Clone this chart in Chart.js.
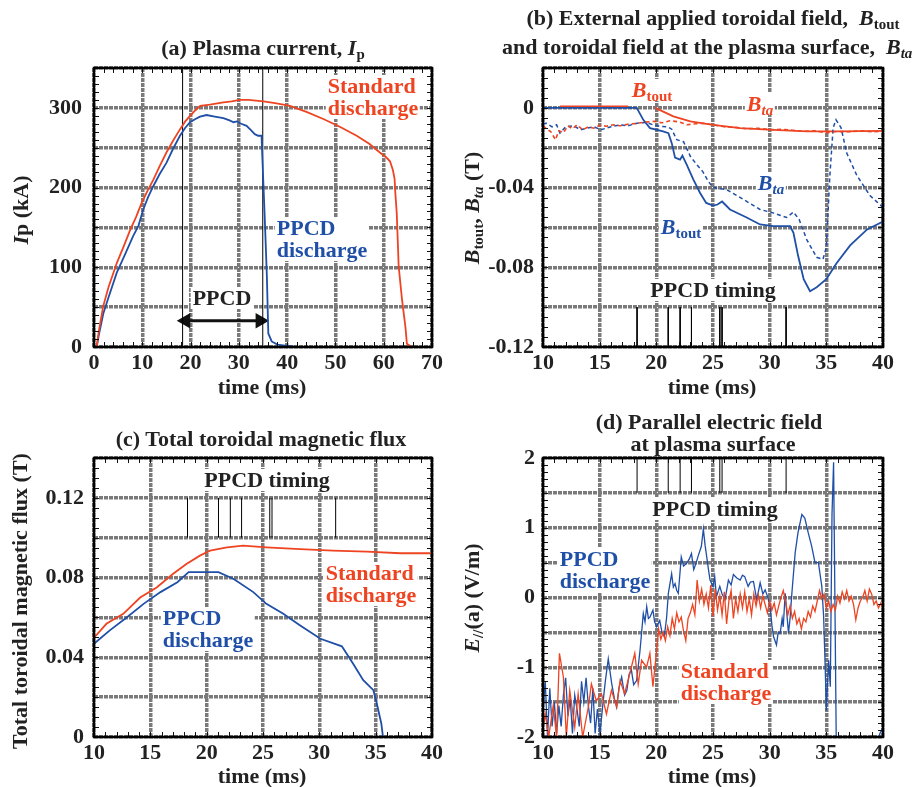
<!DOCTYPE html>
<html>
<head>
<meta charset="utf-8">
<script src="https://cdn.jsdelivr.net/npm/chart.js@4.4.0/dist/chart.umd.min.js"></script>
<style>
  body { margin: 0; width: 917px; height: 787px; position: relative; overflow: hidden; background: #fff;
         font-family: 'Liberation Serif', 'Times New Roman', serif; font-weight: bold; color: #222; }
  canvas { position: absolute; left: 0; top: 0; }
  .lab { position: absolute; white-space: nowrap; transform: translate(-50%, -50%); font-size: 22px; line-height: 22px; }
  .bg { background: #fff; padding: 0 2px; }
  .rot { transform: translate(-50%, -50%) rotate(-90deg); }
  .red { color: #ee4422; }
  .blue { color: #1f4fa6; }
  sub { font-size: 0.68em; vertical-align: -0.3em; line-height: 0; }
  i { font-style: italic; }
</style>
</head>
<body>
<canvas id="pa" width="917" height="787"></canvas>
<canvas id="pb" width="917" height="787"></canvas>
<canvas id="pc" width="917" height="787"></canvas>
<canvas id="pd" width="917" height="787"></canvas>

<!-- (a) -->
<div class="lab" style="left:263px;top:48px">(a) Plasma current, <i>I</i><sub>p</sub></div>
<div class="lab rot" style="left:21px;top:210px"><i>I</i>p (kA)</div>
<div class="lab" style="left:262px;top:387px">time (ms)</div>
<div class="lab bg red" style="left:373px;top:97px;text-align:left">Standard<br>discharge</div>
<div class="lab bg blue" style="left:322px;top:239px;text-align:left">PPCD<br>discharge</div>
<div class="lab bg" style="left:222px;top:298px">PPCD</div>

<!-- (b) -->
<div class="lab" style="left:713px;top:18px">(b) External applied toroidal field,&nbsp; <i>B</i><sub>tout</sub></div>
<div class="lab" style="left:502px;top:47px;transform:translate(0,-50%)">and toroidal field at the plasma surface,&nbsp; <i>B</i><sub><i>ta</i></sub></div>
<div class="lab rot" style="left:472px;top:208px"><i>B</i><sub>tout</sub>, <i>B</i><sub><i>ta</i></sub> (T)</div>
<div class="lab" style="left:712px;top:387px">time (ms)</div>
<div class="lab bg red" style="left:652px;top:90px"><i>B</i><sub>tout</sub></div>
<div class="lab bg red" style="left:760px;top:104px"><i>B</i><sub><i>ta</i></sub></div>
<div class="lab bg blue" style="left:771px;top:183px"><i>B</i><sub><i>ta</i></sub></div>
<div class="lab bg blue" style="left:681px;top:227px"><i>B</i><sub>tout</sub></div>
<div class="lab bg" style="left:713px;top:290px">PPCD timing</div>

<!-- (c) -->
<div class="lab" style="left:261px;top:439px">(c) Total toroidal magnetic flux</div>
<div class="lab rot" style="left:20px;top:601px">Total toroidal magnetic flux (T)</div>
<div class="lab" style="left:262px;top:776px">time (ms)</div>
<div class="lab bg" style="left:267px;top:480px">PPCD timing</div>
<div class="lab bg red" style="left:371px;top:584px;text-align:left">Standard<br>discharge</div>
<div class="lab bg blue" style="left:208px;top:629px;text-align:left">PPCD<br>discharge</div>

<!-- (d) -->
<div class="lab" style="left:709px;top:422px">(d) Parallel electric field</div>
<div class="lab" style="left:713px;top:444px">at plasma surface</div>
<div class="lab rot" style="left:472px;top:598px"><i>E</i><sub>//</sub>(a) (V/m)</div>
<div class="lab" style="left:712px;top:776px">time (ms)</div>
<div class="lab bg" style="left:715px;top:509px">PPCD timing</div>
<div class="lab bg blue" style="left:605px;top:570px;text-align:left">PPCD<br>discharge</div>
<div class="lab bg red" style="left:726px;top:682px;text-align:left">Standard<br>discharge</div>

<script>
// ---- (a) plasma current ----
const ipStdTime = [0, 0.55, 1.0, 1.9, 3.0, 4.7, 6.0, 7.5, 8.7, 9.9, 11.0, 12.3, 13.6, 15.0, 16.4, 17.8, 18.9, 19.9, 21.0, 22.0, 24.0, 26.8, 28.5, 30.2, 32.0, 35.1, 37.5, 40.6, 44.0, 47.5, 51.0, 54.4, 57.0, 59.2, 60.5, 61.3, 61.9, 62.25, 62.4, 62.7, 63.1, 63.8, 64.5, 64.8, 65.8];
const ipStdKA   = [0, 0, 20, 51, 75, 105, 124, 147, 163, 181, 195, 210, 227, 244, 259, 273, 283, 290, 297, 302.6, 304, 307, 308, 310, 310, 308, 306, 302.6, 295, 286, 276, 265, 255, 244, 238, 233, 222, 211, 194, 168, 101, 59, 25, 4, 0];
const ipPpcdTime = [0, 0.55, 1.0, 1.93, 3.0, 4.7, 6.5, 8.1, 9.2, 10.2, 11.2, 12.3, 13.6, 15.0, 16.4, 17.8, 18.9, 19.9, 21.0, 21.95, 23.3, 25.0, 26.8, 28.2, 28.9, 29.6, 30.5, 31.6, 32.5, 33.3, 34.0, 34.7, 34.8, 35.1, 35.4, 35.8, 36.1, 36.8, 38.0, 39.2, 41.9, 42.5];
const ipPpcdKA   = [0, 0, 15, 42, 62, 93, 117, 139, 152, 172.5, 188, 202, 217, 231, 249, 265, 275, 282, 286, 289, 291, 289, 287, 284, 282, 283, 280, 277.5, 272, 267, 265, 265, 248, 202, 156, 89, 17, 7, 3, 2, 0, 0];
const ppcdWindow = [18.35, 34.95];
const ppcdArrow = [19.0, 34.4];
const ppcdArrowLevel = 33;

// ---- (b) toroidal field ----
const btoutPpcdTime = [10, 18.27, 18.85, 19.44, 20.6, 21.07, 21.36, 21.65, 22.09, 22.3, 22.68, 23.27, 23.86, 24.4, 25.0, 25.4, 25.8, 26.5, 27.97, 29.15, 30.3, 31.8, 32.1, 32.5, 33.0, 33.56, 34.15, 35.0, 35.9, 37.1, 38.6, 40.0];
const btoutPpcd     = [0, 0, -0.006, -0.0102, -0.0118, -0.0127, -0.0177, -0.025, -0.026, -0.024, -0.0285, -0.036, -0.0427, -0.0477, -0.049, -0.0485, -0.047, -0.051, -0.055, -0.0585, -0.0593, -0.0593, -0.0627, -0.074, -0.086, -0.092, -0.090, -0.086, -0.078, -0.069, -0.061, -0.057];
const btaPpcdTime = [10, 10.3, 10.8, 11.2, 11.5, 12.0, 12.7, 13.3, 13.9, 14.5, 15.1, 16.0, 16.8, 17.5, 18.3, 19.1, 19.7, 20.3, 21.0, 21.36, 21.8, 22.4, 23.0, 23.5, 24.1, 24.6, 25.0, 26.2, 27.7, 29.15, 30.3, 31.5, 32.1, 32.6, 33.26, 34.15, 34.7, 35.0, 35.3, 35.6, 35.85, 36.3, 36.8, 37.7, 38.85, 40.0];
const btaPpcd     = [-0.008, -0.0077, -0.0095, -0.0085, -0.0127, -0.0095, -0.009, -0.011, -0.0102, -0.0095, -0.011, -0.0095, -0.0085, -0.009, -0.0077, -0.0073, -0.0085, -0.0093, -0.0095, -0.0107, -0.016, -0.017, -0.0243, -0.028, -0.032, -0.037, -0.040, -0.041, -0.046, -0.051, -0.0527, -0.055, -0.0523, -0.056, -0.066, -0.075, -0.076, -0.07, -0.035, -0.01, -0.006, -0.01, -0.0227, -0.034, -0.044, -0.050];
const btoutStdTime = [11.5, 17.5, null, 19.9, 21.5, 23.0, 25.0, 27.4, 30.3, 33.3, 36.2, 40.0];
const btoutStd     = [0.0007, 0.0007, null, 0, -0.0043, -0.0068, -0.0085, -0.0102, -0.011, -0.0118, -0.0118, -0.0115];
const btaStdTime = [10, 10.3, 10.7, 11.1, 11.4, 11.8, 12.2, 12.6, 13.0, 13.5, 14.0, 14.5, 15.0, 15.6, 16.2, 16.8, 17.5, 18.2, 19.0, 19.8, 20.5, 21.2, 22.0, 22.7, 23.5, 24.2, 25.0, 26.0, 27.0, 28.0, 29.0, 30.0, 31.0, 32.0, 33.0, 34.0, 35.0, 36.0, 37.0, 38.0, 39.0, 40.0];
const btaStd     = [-0.009, -0.0105, -0.012, -0.016, -0.0115, -0.0125, -0.009, -0.0105, -0.0085, -0.011, -0.0095, -0.0102, -0.0088, -0.0092, -0.0085, -0.009, -0.0082, -0.0078, -0.0072, -0.0068, -0.0075, -0.0065, -0.007, -0.0085, -0.008, -0.0078, -0.0085, -0.0095, -0.0098, -0.0105, -0.0102, -0.011, -0.0108, -0.0112, -0.0118, -0.0115, -0.0125, -0.0118, -0.012, -0.0115, -0.012, -0.0118];

// ---- (c) toroidal flux ----
const fluxStdTime = [10, 11.1, 12.6, 14.1, 15.56, 17.0, 18.2, 19.4, 20.3, 21.8, 23.25, 25.3, 28.3, 31.2, 34.2, 37.2, 40];
const fluxStd     = [0.0498, 0.0568, 0.0618, 0.070, 0.075, 0.0818, 0.0868, 0.091, 0.0935, 0.0952, 0.096, 0.0952, 0.0943, 0.0935, 0.093, 0.0922, 0.0922];
const fluxPpcdTime = [10, 11.4, 12.9, 14.4, 15.9, 17.4, 18.4, 21.05, 22.4, 24.14, 25.3, 26.8, 28.3, 30.1, 32.0, 33.0, 33.9, 34.8, 35.1, 35.5, 35.65];
const fluxPpcd     = [0.0468, 0.0535, 0.060, 0.0668, 0.0727, 0.0777, 0.0827, 0.0827, 0.0793, 0.0727, 0.0668, 0.0618, 0.056, 0.0493, 0.0455, 0.0368, 0.0285, 0.0235, 0.0168, 0.0068, 0];

// ---- (d) parallel electric field ----
const ePpcdTime = [10.0, 10.2, 10.4, 10.6, 10.8, 11.0, 11.2, 11.4, 11.6, 11.8, 12.0, 12.2, 12.4, 12.6, 12.8, 13.0, 13.2, 13.4, 13.6, 13.8, 14.0, 14.2, 14.4, 14.6, 14.8, 15.03, 15.3, 15.5, 15.76, 16.06, 16.3, 16.5, 16.7, 16.94, 17.2, 17.4, 17.6, 17.8, 18.0, 18.26, 18.56, 18.85, 19.0, 19.15, 19.3, 19.44, 19.7, 19.85, 20.03, 20.3, 20.5, 20.7, 20.9, 21.06, 21.35, 21.5, 21.65, 21.8, 21.94, 22.2, 22.4, 22.67, 22.9, 23.1, 23.3, 23.5, 23.7, 23.97, 24.15, 24.3, 24.44, 24.6, 24.74, 25.0, 25.15, 25.3, 25.6, 25.8, 26.06, 26.36, 26.6, 26.8, 27.1, 27.4, 27.6, 27.8, 28.1, 28.3, 28.57, 28.86, 29.16, 29.4, 29.6, 29.8, 30.04, 30.2, 30.34, 30.6, 30.75, 30.93, 31.1, 31.2, 31.37, 31.5, 31.66, 31.8, 31.96, 32.25, 32.5, 32.84, 33.1, 33.4, 33.7, 34.0, 34.3, 34.6, 34.76, 34.9, 35.0, 35.2, 35.35, 35.5, 35.64, 35.7, 35.9, 39.5, 39.7, 40.0];
const ePpcd     = [-1.6, -1.2, -2.0, -1.3, -1.85, -1.5, -1.95, -1.55, -1.85, -1.4, -1.15, -1.7, -1.45, -1.95, -1.4, -1.6, -1.85, -1.2, -1.5, -1.15, -1.55, -1.8, -1.3, -1.95, -1.6, -1.95, -1.5, -1.2, -0.88, -1.23, -1.45, -1.57, -1.3, -1.14, -1.4, -1.33, -1.1, -1.04, -1.25, -1.19, -0.76, -0.23, -0.35, -0.13, -0.3, -0.28, -0.18, -0.35, -0.42, -0.33, -0.5, -0.56, -0.3, 0.06, 0.34, 0.15, 0.2, 0.1, 0.06, 0.58, 0.45, 0.49, 0.55, 0.63, 0.4, 0.49, 0.6, 0.73, 0.98, 0.75, 0.59, 0.4, 0.25, 0.16, 0.3, 0.01, 0.16, 0.05, -0.03, 0.25, 0.18, 0.33, 0.28, 0.25, 0.32, 0.3, 0.16, 0.22, 0.23, -0.03, 0.21, 0.05, 0.11, 0.02, -0.13, -0.4, -0.56, -0.68, -0.5, -0.51, -0.3, -0.42, 0.06, -0.2, -0.51, -0.3, 0.06, 0.64, 0.93, 1.19, 1.14, 0.93, 0.74, 0.5, 0.5, 0.16, -0.27, -1.0, -1.62, -0.9, -1.28, 1.19, 1.94, 0.93, -2.5, -2.5, -1.96, -1.86];
const eStdTime = [10.0, 10.2, 10.5, 10.9, 11.2, 11.45, 11.8, 12.06, 12.36, 12.8, 13.1, 13.5, 14.0, 14.27, 14.7, 15.16, 15.6, 16.04, 16.5, 16.8, 17.2, 17.66, 18.1, 18.4, 18.7, 19.14, 19.43, 19.7,
  20.0, 20.2, 20.4, 20.6, 20.8, 21.0, 21.2, 21.4, 21.6, 21.8, 22.0, 22.2, 22.4, 22.6, 22.8, 23.0, 23.2, 23.4, 23.6, 23.8, 24.0, 24.2, 24.4, 24.6, 24.8,
  25.0, 25.2, 25.4, 25.6, 25.8, 26.0, 26.2, 26.4, 26.6, 26.8, 27.0, 27.2, 27.4, 27.6, 27.8, 28.0, 28.2, 28.4, 28.6, 28.8, 29.0, 29.2, 29.4, 29.6, 29.8,
  30.0, 30.2, 30.4, 30.6, 30.8, 31.0, 31.2, 31.4, 31.6, 31.8, 32.0, 32.2, 32.4, 32.6, 32.8, 33.0, 33.2, 33.4, 33.6, 33.8, 34.0, 34.2, 34.4, 34.6, 34.8,
  35.0, 35.2, 35.4, 35.6, 35.8, 36.0, 36.2, 36.4, 36.6, 36.8, 37.0, 37.2, 37.4, 37.6, 37.8, 38.0, 38.2, 38.4, 38.6, 38.8, 39.0, 39.2, 39.4, 39.6, 39.8, 40.0];
const eStd     = [-1.9, -1.67, -2.0, -1.55, -2.0, -0.8, -1.14, -2.0, -1.33, -1.86, -1.38, -2.0, -1.57, -1.24, -1.48, -1.38, -1.67, -1.33, -1.57, -1.19, -1.38, -1.09, -0.8, -1.24, -0.9, -1.0, -0.8, -1.28,
  -0.8, -0.45, -0.6, -0.5, -0.62, -0.42, -0.55, -0.3, -0.45, -0.22, -0.35, -0.28, -0.48, -0.62, -0.3, -0.22, -0.1, -0.25, 0.25, -0.05, 0.12, -0.1, 0.05, -0.15, 0.18,
  -0.27, 0.12, -0.18, 0.02, -0.25, 0.08, -0.38, -0.05, 0.1, -0.3, -0.02, -0.2, 0.05, -0.15, 0.08, -0.2, -0.02, -0.25, 0.05, -0.12, 0.04, -0.15, 0.02, -0.1, -0.22,
  -0.05, -0.18, -0.08, -0.25, -0.12, 0.0, 0.1, -0.05, -0.25, -0.12, -0.3, -0.2, -0.38, -0.3, -0.45, -0.3, -0.35, -0.2, -0.28, -0.12, -0.2, -0.05, 0.1, -0.02, 0.05,
  -0.15, -0.05, -0.2, -0.1, -0.18, 0.02, -0.08, 0.08, -0.02, 0.1, -0.05, 0.02, -0.1, -0.32, -0.15, -0.05, 0.0, 0.1, -0.05, 0.12, 0.05, -0.1, -0.05, -0.15, -0.08, -0.18];

// PPCD coil firing times (panels b, c, d)
const ppcdTiming = [18.3, 21.05, 22.1, 23.1, 25.6, 25.8, 31.45];

const RED = '#ee4422', BLUE = '#1f4fa6';
const FONT = "'Liberation Serif', 'Times New Roman', serif";

function zip(ts, vs) {
  return ts.map((t, i) => (t === null ? { x: NaN, y: null } : { x: t, y: vs[i] }));
}

function series(ts, vs, color, width, dash) {
  return { data: zip(ts, vs), borderColor: color, borderWidth: width, borderDash: dash || [], pointRadius: 0, spanGaps: false };
}

function vlines(ts, y0, y1) {
  return ts.map(t => ({ data: [{ x: t, y: y0 }, { x: t, y: y1 }], borderColor: '#000', borderWidth: 1, pointRadius: 0 }));
}

// inner frame + small inward minor ticks like the original plots
const framePlugin = {
  id: 'frame',
  afterDatasetsDraw(chart, args, opts) {
    const { ctx, chartArea: a, scales: { x, y } } = chart;
    ctx.save();
    ctx.strokeStyle = '#111';
    ctx.lineWidth = 1;
    ctx.beginPath();
    for (let v = x.min; v <= x.max + 1e-9; v += opts.xMinor) {
      const px = Math.round(x.getPixelForValue(v)) + 0.5;
      ctx.moveTo(px, a.bottom); ctx.lineTo(px, a.bottom - opts.len);
      ctx.moveTo(px, a.top); ctx.lineTo(px, a.top + opts.len);
    }
    for (let v = y.min; v <= y.max + 1e-9; v += opts.yMinor) {
      const py = Math.round(y.getPixelForValue(v)) + 0.5;
      ctx.moveTo(a.left, py); ctx.lineTo(a.left + opts.len, py);
      ctx.moveTo(a.right, py); ctx.lineTo(a.right - opts.len, py);
    }
    ctx.stroke();
    ctx.lineWidth = 2.5;
    ctx.strokeStyle = '#000';
    ctx.strokeRect(a.left, a.top, a.width, a.height);
    ctx.restore();
  }
};

function axis(min, max, step, pad, label) {
  return {
    type: 'linear', min: min, max: max,
    grid: { color: '#7a7a7a', lineWidth: 3.5, drawTicks: false },
    border: { display: false, dash: [4, 1] },
    ticks: { stepSize: step, autoSkip: false, padding: pad, color: '#222', maxRotation: 0,
             font: { family: FONT, size: 22, weight: 'bold' }, callback: label }
  };
}

function panel(id, area, xAxis, yAxis, datasets, minor) {
  const YW = 80, XH = 30;
  xAxis.afterFit = s => { s.height = XH; };
  yAxis.afterFit = s => { s.width = YW; };
  return new Chart(document.getElementById(id), {
    type: 'line',
    data: { datasets: datasets },
    options: {
      responsive: false, animation: false, events: [],
      layout: { padding: { left: area.l - YW, top: area.t, right: 917 - area.r, bottom: 787 - area.b - XH } },
      plugins: { legend: { display: false }, tooltip: { enabled: false }, frame: minor },
      elements: { line: { tension: 0 } },
      scales: { x: xAxis, y: yAxis }
    },
    plugins: [framePlugin]
  });
}

const plainX = v => String(v);
const fluxLabel = v => { const k = Math.round(v * 100); return k % 4 === 0 ? (k === 0 ? '0' : (k / 100).toFixed(2)) : ''; };

// (a)
panel('pa', { l: 94, t: 68, r: 432, b: 347 },
  axis(0, 70, 10, 3, plainX),
  axis(0, 350, 50, 12, v => (v % 100 === 0 ? String(v) : '')),
  [
    series(ipStdTime, ipStdKA, RED, 1.8),
    series(ipPpcdTime, ipPpcdKA, BLUE, 1.8),
    ...vlines(ppcdWindow, 0, 350),
    { data: [{ x: ppcdArrow[0], y: ppcdArrowLevel }, { x: ppcdArrow[1], y: ppcdArrowLevel }],
      borderColor: '#111', borderWidth: 3, pointStyle: 'triangle', pointRadius: 6,
      pointRotation: [-90, 90], pointBackgroundColor: '#111', pointBorderColor: '#111' }
  ],
  { xMinor: 2, yMinor: 10, len: 5 });

// (b)
panel('pb', { l: 543, t: 68, r: 883, b: 347 },
  axis(10, 40, 5, 3, plainX),
  axis(-0.12, 0.02, 0.02, 9, fluxLabel),
  [
    series(btaStdTime, btaStd, RED, 1.6, [4, 3]),
    series(btaPpcdTime, btaPpcd, BLUE, 1.5, [4, 3]),
    series(btoutPpcdTime, btoutPpcd, BLUE, 1.8),
    series(btoutStdTime, btoutStd, RED, 1.8),
    ...vlines(ppcdTiming, -0.1, -0.12)
  ],
  { xMinor: 1, yMinor: 0.005, len: 5 });

// (c)
panel('pc', { l: 94, t: 458, r: 432, b: 737 },
  axis(10, 40, 5, 3, plainX),
  axis(0, 0.14, 0.02, 10, fluxLabel),
  [
    series(fluxStdTime, fluxStd, RED, 1.8),
    series(fluxPpcdTime, fluxPpcd, BLUE, 1.8),
    ...vlines(ppcdTiming, 0.1, 0.12)
  ],
  { xMinor: 1, yMinor: 0.005, len: 5 });

// (d)
panel('pd', { l: 543, t: 458, r: 883, b: 737 },
  axis(10, 40, 5, 3, plainX),
  axis(-2, 2, 0.5, 8, v => (Number.isInteger(v) ? String(v) : '')),
  [
    series(eStdTime, eStd, RED, 1.3),
    series(ePpcdTime, ePpcd, BLUE, 1.3),
    ...vlines(ppcdTiming, 1.5, 2)
  ],
  { xMinor: 1, yMinor: 0.1, len: 5 });
</script>
</body>
</html>
